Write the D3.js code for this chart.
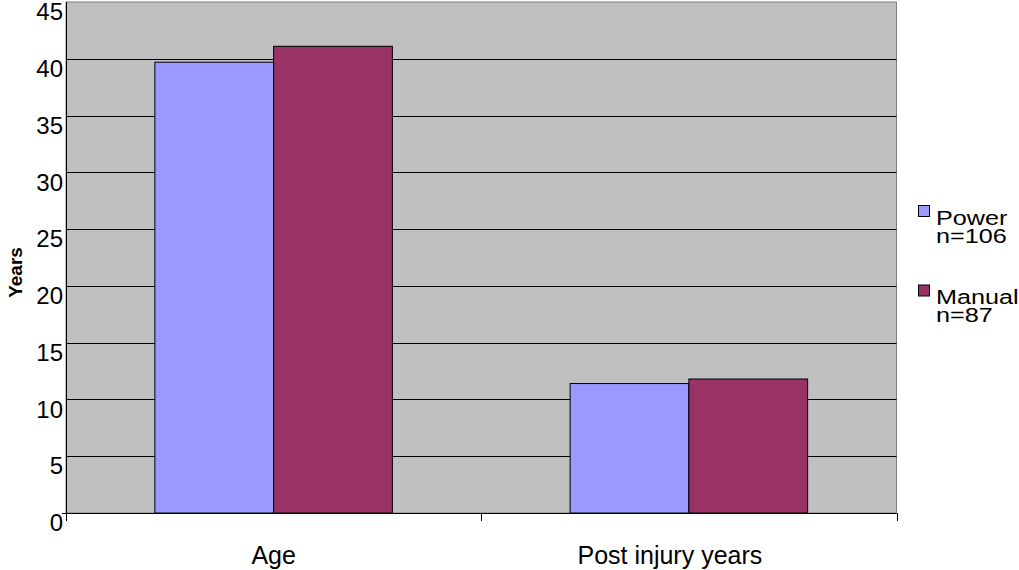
<!DOCTYPE html>
<html>
<head>
<meta charset="utf-8">
<script src="https://cdn.jsdelivr.net/npm/d3@7"></script>
<style>
  html, body { margin: 0; padding: 0; background: #ffffff; }
  svg { display: block; font-family: "Liberation Sans", Arial, sans-serif; }
</style>
</head>
<body>
<svg id="chart" width="1019" height="570"></svg>
<script>
// Categories along the x axis
const categories = ["Age", "Post injury years"];
// Series names (legend lines) and their values in years
const seriesNames = [["Power", "n=106"], ["Manual", "n=87"]];
const powerValues = [39.7, 11.4];
const manualValues = [41.1, 11.8];
// Y axis ticks
const yTicks = [0, 5, 10, 15, 20, 25, 30, 35, 40, 45];
const yTitle = "Years";

const colors = ["#9999ff", "#993366"];
const series = [powerValues, manualValues];

const svg = d3.select("#chart");
const plot = { left: 66, right: 896.5, top: 2, bottom: 513 };

const y = d3.scaleLinear().domain([0, 45]).range([plot.bottom, plot.top]);

// category bands; each category takes a full step with the gap split on both sides
const gap = 0.428;
const x0 = d3.scaleBand().domain(categories)
  .range([plot.left, plot.right]).paddingInner(gap).paddingOuter(gap / 2);
const x1 = d3.scaleBand().domain(d3.range(series.length))
  .range([0, x0.bandwidth()]);

// plot area background
svg.append("rect")
  .attr("x", plot.left).attr("y", plot.top)
  .attr("width", plot.right - plot.left).attr("height", plot.bottom - plot.top)
  .attr("fill", "#c0c0c0").attr("stroke", "#808080").attr("stroke-width", 1);

// horizontal gridlines
svg.append("g").selectAll("line")
  .data(yTicks.filter(d => d > 0 && d < 45))
  .join("line")
  .attr("x1", plot.left).attr("x2", plot.right)
  .attr("y1", d => Math.round(y(d)) + 0.5).attr("y2", d => Math.round(y(d)) + 0.5)
  .attr("stroke", "#000").attr("stroke-width", 1);

// bars
const groups = svg.append("g").selectAll("g")
  .data(categories)
  .join("g")
  .attr("transform", d => `translate(${x0(d)},0)`);

groups.selectAll("rect")
  .data((d, i) => series.map((s, k) => ({ k, v: s[i] })))
  .join("rect")
  .attr("x", d => x1(d.k))
  .attr("y", d => y(d.v))
  .attr("width", x1.bandwidth())
  .attr("height", d => y(0) - y(d.v))
  .attr("fill", d => colors[d.k])
  .attr("stroke", "#000").attr("stroke-width", 1);

// y axis with labels sitting just below their gridlines
const yAxis = d3.axisLeft(y).tickValues(yTicks).tickSize(0).tickPadding(3);
const gy = svg.append("g").attr("transform", `translate(${plot.left},0)`).call(yAxis);
gy.select(".domain").remove();
gy.selectAll("text")
  .attr("font-size", 24).attr("fill", "#000")
  .attr("font-family", "'Liberation Sans', Arial, sans-serif")
  .attr("dy", "0.74em");

// axis lines
svg.append("line")
  .attr("x1", plot.left + 0.5).attr("x2", plot.left + 0.5)
  .attr("y1", plot.top).attr("y2", plot.bottom + 7)
  .attr("stroke", "#000");
svg.append("line")
  .attr("x1", plot.left - 4).attr("x2", plot.right)
  .attr("y1", plot.bottom + 0.5).attr("y2", plot.bottom + 0.5)
  .attr("stroke", "#000");

// x axis: category labels and boundary ticks
const labelShift = [0, -19];
const xAxis = d3.axisBottom(x0).tickSize(0).tickPadding(0);
const gx = svg.append("g").attr("transform", `translate(0,${plot.bottom})`).call(xAxis);
gx.select(".domain").remove();
gx.selectAll("text")
  .attr("font-size", 25).attr("fill", "#000")
  .attr("font-family", "'Liberation Sans', Arial, sans-serif")
  .attr("dy", null).attr("y", 51)
  .attr("dx", (d, i) => labelShift[i]);

const step = x0.step();
svg.append("g").selectAll("line")
  .data(d3.range(categories.length + 1))
  .join("line")
  .attr("x1", i => Math.round(plot.left + i * step) + 0.5)
  .attr("x2", i => Math.round(plot.left + i * step) + 0.5)
  .attr("y1", plot.bottom).attr("y2", plot.bottom + 8)
  .attr("stroke", "#000");

// y axis title
svg.append("text")
  .attr("transform", `translate(22,${(plot.top + plot.bottom) / 2 + 15}) rotate(-90)`)
  .attr("text-anchor", "middle")
  .attr("font-size", 19).attr("font-weight", "bold")
  .text(yTitle);

// legend
const legend = svg.append("g").selectAll("g")
  .data(seriesNames)
  .join("g")
  .attr("transform", (d, i) => `translate(918,${205 + i * 79.5})`);

legend.append("rect")
  .attr("x", 0.5).attr("y", 0.5).attr("width", 11).attr("height", 11)
  .attr("fill", (d, i) => colors[i]).attr("stroke", "#000").attr("stroke-width", 1);

// legend labels are set a little wide, two tight lines each
legend.append("text")
  .attr("transform", "translate(18,19.5) scale(1.2,1)")
  .attr("font-size", 21).attr("fill", "#000")
  .selectAll("tspan")
  .data(d => d)
  .join("tspan")
  .attr("x", 0)
  .attr("dy", (d, i) => i === 0 ? 0 : 18)
  .text(d => d);
</script>
</body>
</html>
